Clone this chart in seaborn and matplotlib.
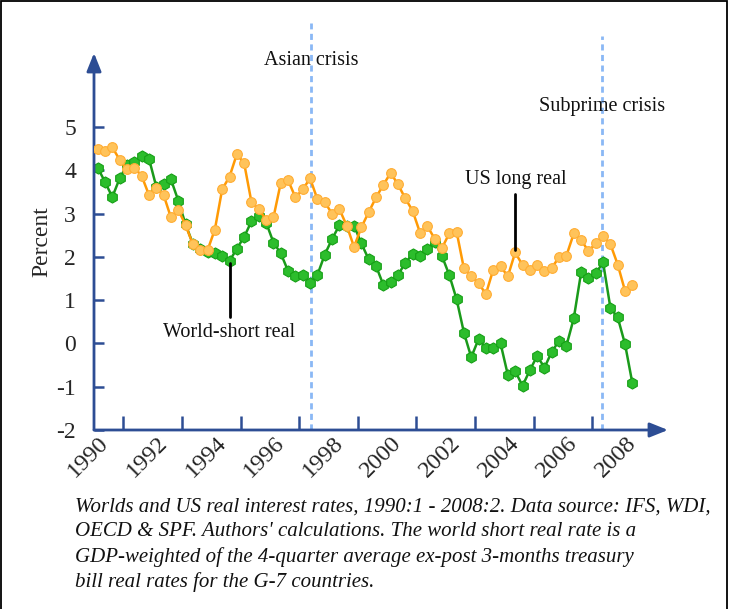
import matplotlib
matplotlib.use("Agg")
import matplotlib.pyplot as plt
import matplotlib.transforms as mtransforms
from matplotlib.patches import Rectangle
import numpy as np
import pandas as pd
import seaborn as sns

# Quarterly observations, 1990:1 - 2008:2 (percent)
quarters = [f"{1990 + i // 4}:{i % 4 + 1}" for i in range(74)]

us_long_real = [
    4.49, 4.45, 4.53, 4.24, 4.02, 4.06, 3.87, 3.43, 3.58, 3.43,
    2.91, 3.09, 2.73, 2.29, 2.15, 2.15, 2.63, 3.56, 3.85, 4.37,
    4.16, 3.26, 3.10, 2.85, 2.91, 3.71, 3.77, 3.37, 3.56, 3.81,
    3.33, 3.27, 2.99, 3.10, 2.72, 2.23, 2.68, 3.03, 3.37, 3.66,
    3.94, 3.67, 3.35, 3.06, 2.56, 2.71, 2.42, 2.20, 2.54, 2.58,
    1.73, 1.55, 1.39, 1.14, 1.70, 1.78, 1.55, 2.10, 1.81, 1.69,
    1.81, 1.67, 1.75, 1.99, 2.03, 2.54, 2.39, 2.13, 2.31, 2.49,
    2.29, 1.82, 1.21, 1.35,
]

world_short_real = [
    4.06, 3.73, 3.38, 3.81, 4.12, 4.19, 4.33, 4.27, 3.62, 3.68,
    3.79, 3.30, 2.75, 2.30, 2.18, 2.12, 2.08, 2.02, 1.90, 2.19,
    2.46, 2.82, 2.95, 2.79, 2.33, 2.08, 1.67, 1.55, 1.58, 1.39,
    1.58, 2.05, 2.41, 2.73, 2.72, 2.72, 2.31, 1.94, 1.79, 1.35,
    1.42, 1.58, 1.86, 2.06, 2.03, 2.18, 2.35, 2.02, 1.58, 1.02,
    0.25, -0.32, 0.10, -0.10, -0.10, 0.00, -0.73, -0.64, -0.98, -0.62,
    -0.29, -0.56, -0.19, 0.06, -0.05, 0.58, 1.64, 1.52, 1.62, 1.87,
    0.82, 0.60, -0.02, -0.92,
]

year_labels = [str(y) for y in range(1990, 2009, 2)]
tick_years = list(range(1991, 2008, 2))
y_ticks = [-2, -1, 0, 1, 2, 3, 4, 5]

crises = {"Asian crisis": (1997.41, 7.4, 6.54), "Subprime crisis": (2007.34, 7.1, 5.47)}

caption_lines = [
    "Worlds and US real interest rates, 1990:1 - 2008:2. Data source: IFS, WDI,",
    "OECD & SPF. Authors' calculations. The world short real rate is a",
    "GDP-weighted of the 4-quarter average ex-post 3-months treasury",
    "bill real rates for the G-7 countries.",
]

# quarter mid-points as decimal years
def to_decimal(q):
    y, n = q.split(":")
    return int(y) + (int(n) - 0.5) / 4

df = pd.DataFrame({
    "date": [to_decimal(q) for q in quarters],
    "us": us_long_real,
    "world": world_short_real,
})

sns.set_style("white")
plt.rcParams["font.family"] = ["Liberation Serif", "DejaVu Serif"]

axis_color = "#2d4d94"
orange_line = "#ff9a05"
orange_face = "#ffc35a"
green_line = "#1a9a1a"
green_face = "#2cbd2c"

fig = plt.figure(figsize=(7.29, 6.09), dpi=100)
ax = fig.add_axes([94 / 729, 179 / 609, 574 / 729, 377 / 609])
ax.set_xlim(1990, 1990 + 574 / 29.3)
ax.set_ylim(-2, -2 + 377 / 43.3)

sns.lineplot(data=df, x="date", y="world", ax=ax, color=green_line, lw=1.8,
             marker="h", markersize=8, markerfacecolor=green_face,
             markeredgecolor="#16a016", markeredgewidth=0.8, zorder=3)
sns.lineplot(data=df, x="date", y="us", ax=ax, color=orange_line, lw=1.8,
             marker="o", markersize=7, markerfacecolor=orange_face,
             markeredgecolor="#ffad33", markeredgewidth=0.8, zorder=4)

# crisis markers
for name, (xc, ytop, ytext) in crises.items():
    ax.plot([xc, xc], [-2, ytop], color="#8ab8f5", lw=2.0,
            linestyle=(0, (2.2, 1.6)), clip_on=False, zorder=2)
    ax.text(xc, ytext, name, ha="center", va="center", fontsize=14.5,
            color="#111111")

# series labels with leader lines
i_us = 57
ax.plot([df.date[i_us], df.date[i_us]], [us_long_real[i_us] + 0.05, 3.44],
        color="black", lw=2, zorder=5)
ax.text(df.date[i_us] + 0.03, 3.78, "US long real", ha="center", va="center",
        fontsize=14.5, color="#111111")
i_w = 18
ax.plot([df.date[i_w], df.date[i_w]], [world_short_real[i_w] - 0.05, 0.62],
        color="black", lw=2, zorder=5)
ax.text(df.date[i_w], 0.26, "World-short real", ha="center", va="center",
        fontsize=14.5, color="#111111")

# axes drawn as arrows
for spine in ax.spines.values():
    spine.set_visible(False)
arrow = dict(arrowstyle="-|>,head_length=0.55,head_width=0.22",
             color=axis_color, lw=2, shrinkA=0, shrinkB=0, mutation_scale=20)
ax.annotate("", xy=(1, 0), xytext=(0, 0), xycoords="axes fraction",
            arrowprops=arrow)
ax.annotate("", xy=(0, 1), xytext=(0, 0), xycoords="axes fraction",
            arrowprops=arrow)

ax.set_yticks(y_ticks)
ax.set_yticklabels([str(v) for v in y_ticks])
ax.tick_params(axis="y", direction="in", length=7, width=1.8, color=axis_color,
               labelsize=17, pad=13, left=True)
ax.set_xticks(tick_years)
ax.set_xticklabels([])
ax.set_xticks([int(s) for s in year_labels], minor=True)
ax.set_xticklabels(year_labels, minor=True, rotation=45, ha="right",
                   fontsize=17.5)
ax.tick_params(axis="x", which="major", direction="in", length=10, width=1.8,
               color=axis_color, bottom=True)
ax.tick_params(axis="x", which="minor", length=0, pad=2, bottom=True)
shift = mtransforms.ScaledTranslation(19 / 100, 0, fig.dpi_scale_trans)
for lab in ax.get_xticklabels(minor=True):
    lab.set_transform(lab.get_transform() + shift)

ax.set_xlabel("")
ax.set_ylabel("Percent", fontsize=17, labelpad=3)
ax.grid(False)

for k, line in enumerate(caption_lines):
    fig.text(75 / 729, 1 - (507 + 25 * k) / 609, line, style="italic",
             fontsize=15, va="center", ha="left", color="#111111")

fig.patches.append(Rectangle((0.0015, -0.05), 0.996, 1.048,
                             transform=fig.transFigure, fill=False,
                             ec="black", lw=1.3))

fig.savefig("out.png", dpi=100)
